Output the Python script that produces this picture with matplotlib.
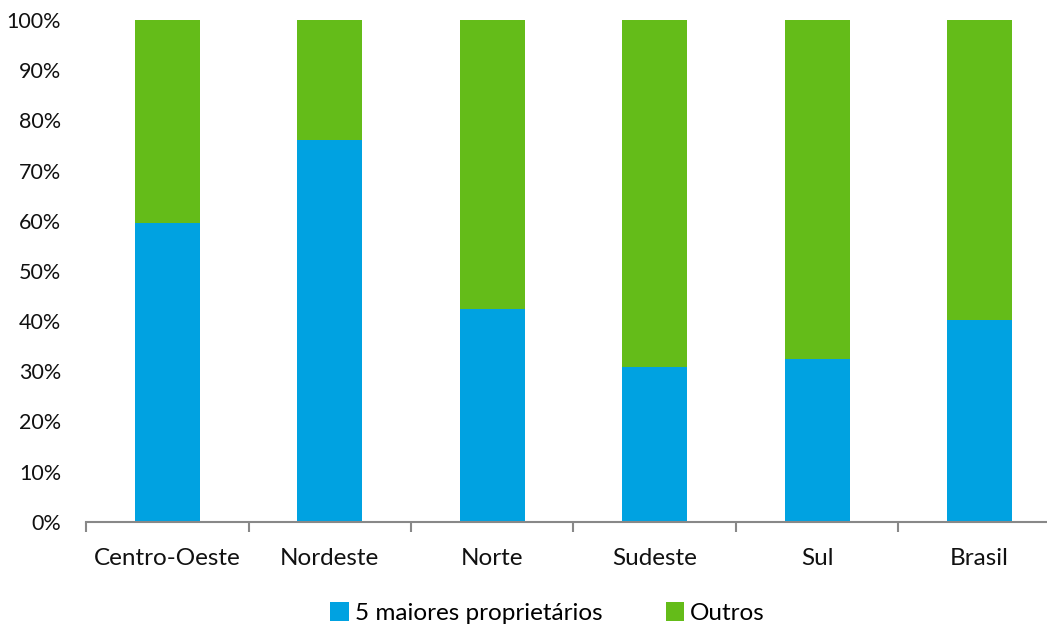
import matplotlib
matplotlib.use("Agg")
import matplotlib.pyplot as plt
from matplotlib.ticker import FixedLocator, PercentFormatter
import numpy as np

categories = ["Centro-Oeste", "Nordeste", "Norte", "Sudeste", "Sul", "Brasil"]
top5 = [59.5, 76.1, 42.3, 30.8, 32.4, 40.3]
outros = [100 - v for v in top5]
series_names = ["5 maiores proprietários", "Outros"]
colors = ["#00A2E1", "#64BC19"]

plt.rcParams['font.family'] = ['Lato', 'DejaVu Sans']

fig = plt.figure(figsize=(10.47, 6.27), dpi=100)
ax = fig.add_axes([0.0824, 0.168, 0.9306, 0.800])

x = np.arange(len(categories))
ax.bar(x, top5, width=0.40, color=colors[0], label=series_names[0])
ax.bar(x, outros, width=0.40, bottom=top5, color=colors[1], label=series_names[1])

ax.set_xlim(-0.5, len(categories) - 0.5)
ax.set_ylim(0, 100)
ax.set_yticks(np.arange(0, 101, 10))
ax.yaxis.set_major_formatter(PercentFormatter(decimals=0))
ax.set_xticks(x)
ax.set_xticklabels(categories)
ax.xaxis.set_minor_locator(FixedLocator(np.arange(-0.5, len(categories), 1)))
ax.tick_params(axis='x', which='major', length=0, pad=19, labelsize=17.5, colors='#111111')
ax.tick_params(axis='x', which='minor', length=7, width=1.5, color='#888888')
ax.tick_params(axis='y', length=0, pad=18, labelsize=15.5, colors='#111111')
for s in ['top', 'right', 'left']:
    ax.spines[s].set_visible(False)
ax.spines['bottom'].set_color('#888888')
ax.spines['bottom'].set_linewidth(1.5)

fig.legend(loc='lower center', bbox_to_anchor=(0.523, -0.03), ncol=2, frameon=False,
           fontsize=17.5, handlelength=0.75, handleheight=0.85, handletextpad=0.25,
           columnspacing=2.6)

fig.savefig("out.png", dpi=100)
